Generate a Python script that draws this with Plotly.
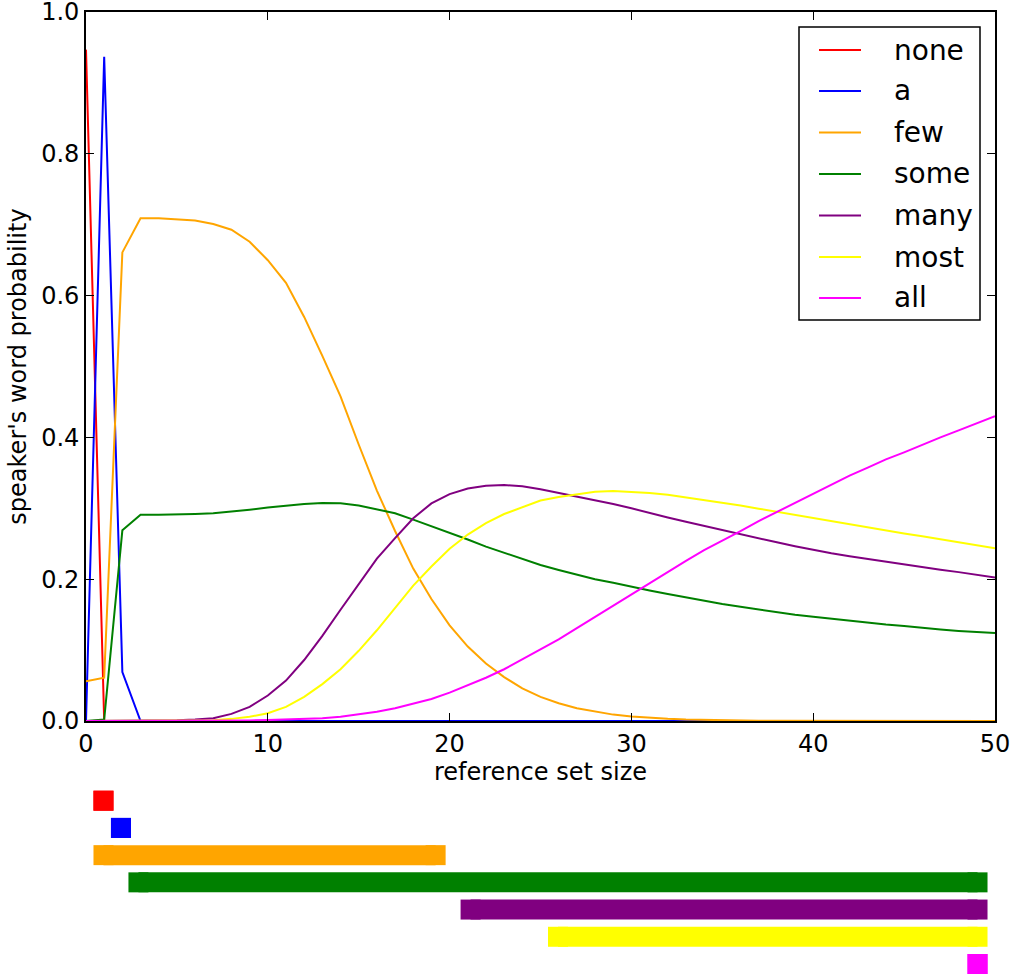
import plotly.graph_objects as go

x_sizes = list(range(51))

none_p = [0.947, 0, 0, 0, 0, 0, 0, 0, 0, 0,
          0, 0, 0, 0, 0, 0, 0, 0, 0, 0,
          0, 0, 0, 0, 0, 0, 0, 0, 0, 0,
          0, 0, 0, 0, 0, 0, 0, 0, 0, 0,
          0, 0, 0, 0, 0, 0, 0, 0, 0, 0, 0]
a_p = [0, 0.937, 0.069, 0, 0, 0, 0, 0, 0, 0,
       0, 0, 0, 0, 0, 0, 0, 0, 0, 0,
       0, 0, 0, 0, 0, 0, 0, 0, 0, 0,
       0, 0, 0, 0, 0, 0, 0, 0, 0, 0,
       0, 0, 0, 0, 0, 0, 0, 0, 0, 0, 0]
few_p = [0.056, 0.061, 0.661, 0.709, 0.709, 0.708, 0.706, 0.701, 0.693, 0.676,
         0.650, 0.618, 0.570, 0.515, 0.458, 0.390, 0.325, 0.268, 0.215, 0.172,
         0.135, 0.105, 0.081, 0.062, 0.046, 0.034, 0.025, 0.018, 0.013, 0.009,
         0.0065, 0.0045, 0.003, 0.002, 0.0014, 0.001, 0.0006, 0.0004, 0.0003, 0.0002,
         0.0001, 0.0001, 0, 0, 0, 0, 0, 0, 0, 0, 0]
some_p = [0, 0.002, 0.269, 0.291, 0.291, 0.291, 0.292, 0.293, 0.295, 0.298,
          0.301, 0.304, 0.306, 0.3075, 0.307, 0.304, 0.299, 0.293, 0.284, 0.275,
          0.266, 0.256, 0.246, 0.237, 0.228, 0.220, 0.213, 0.206, 0.200, 0.195,
          0.189, 0.184, 0.179, 0.174, 0.169, 0.165, 0.161, 0.157, 0.153, 0.150,
          0.147, 0.144, 0.141, 0.138, 0.136, 0.134, 0.131, 0.129, 0.127, 0.125, 0.124]
many_p = [0, 0, 0, 0, 0, 0.001, 0.002, 0.004, 0.010, 0.020,
          0.036, 0.057, 0.086, 0.120, 0.157, 0.193, 0.229, 0.258, 0.286, 0.307,
          0.320, 0.328, 0.332, 0.333, 0.331, 0.327, 0.322, 0.317, 0.312, 0.306,
          0.300, 0.293, 0.287, 0.281, 0.275, 0.2695, 0.2635, 0.2575, 0.252, 0.2465,
          0.241, 0.2365, 0.2325, 0.2285, 0.2245, 0.221, 0.2175, 0.2135, 0.210, 0.2065, 0.2025]
most_p = [0, 0, 0, 0, 0, 0, 0, 0.001, 0.003, 0.006,
          0.011, 0.020, 0.034, 0.052, 0.073, 0.099, 0.128, 0.159, 0.191, 0.218,
          0.243, 0.263, 0.279, 0.292, 0.302, 0.311, 0.316, 0.320, 0.3235, 0.3245,
          0.3235, 0.3215, 0.319, 0.3155, 0.312, 0.3085, 0.304, 0.2995, 0.295, 0.2905,
          0.286, 0.2815, 0.277, 0.273, 0.269, 0.2645, 0.2605, 0.256, 0.252, 0.248, 0.2435]
all_p = [0, 0, 0, 0, 0, 0, 0, 0.0003, 0.0005, 0.0008,
         0.0013, 0.002, 0.003, 0.004, 0.006, 0.009, 0.013, 0.018, 0.024, 0.031,
         0.040, 0.050, 0.061, 0.073, 0.087, 0.101, 0.115, 0.131, 0.147, 0.163,
         0.178, 0.1945, 0.210, 0.226, 0.241, 0.254, 0.268, 0.282, 0.295, 0.308,
         0.321, 0.3335, 0.346, 0.3575, 0.369, 0.379, 0.390, 0.400, 0.410, 0.420, 0.430]

words = ["none", "a", "few", "some", "many", "most", "all"]
colors = ["red", "blue", "orange", "green", "purple", "yellow", "magenta"]
series = [none_p, a_p, few_p, some_p, many_p, most_p, all_p]

# ranges of set sizes where each word is used (bottom panel)
range_start = [0, 1, 0, 2, 21, 26, 50]
range_end = [0, 1, 19, 50, 50, 50, 50]
row_index = [0, 1, 2, 3, 4, 5, 6]

y_ticks = [0.0, 0.2, 0.4, 0.6, 0.8, 1.0]
x_ticks = [0, 10, 20, 30, 40, 50]

FONT = "DejaVu Sans"
W, H = 1016, 978
ml, mr, mt, mb = 86, 21, 12, 0
pw = W - ml - mr
ph = H - mt - mb


def xpaper(px):
    return (px - ml) / pw


def ypaper(py):
    return (H - mb - py) / ph


fig = go.Figure()

for w, c, s in zip(words, colors, series):
    fig.add_trace(go.Scatter(x=x_sizes, y=s, mode="lines", name=w,
                             line=dict(color=c, width=2),
                             showlegend=False,
                             xaxis="x", yaxis="y"))

for w, c, a0, a1, r in zip(words, colors, range_start, range_end, row_index):
    fig.add_trace(go.Scatter(x=[a0, a1], y=[r, r], mode="lines+markers",
                             line=dict(color=c, width=20),
                             marker=dict(symbol="square", size=20, color=c,
                                         line=dict(width=0)),
                             showlegend=False, xaxis="x2", yaxis="y2",
                             cliponaxis=False, hoverinfo="skip"))

# hand-built legend box (matching the matplotlib look)
shapes = [dict(type="rect", xref="paper", yref="paper",
               x0=xpaper(799), x1=xpaper(980), y0=ypaper(320), y1=ypaper(27),
               line=dict(color="black", width=1.5), fillcolor="white",
               layer="above")]
annotations = []
row_y = [50, 91, 132.5, 174, 215.5, 257, 298]
for w, c, ry in zip(words, colors, row_y):
    shapes.append(dict(type="line", xref="paper", yref="paper",
                       x0=xpaper(819), x1=xpaper(861),
                       y0=ypaper(ry), y1=ypaper(ry),
                       line=dict(color=c, width=2), layer="above"))
    annotations.append(dict(text=w, xref="paper", yref="paper",
                            x=xpaper(892), y=ypaper(ry),
                            xanchor="left", yanchor="middle", showarrow=False,
                            font=dict(family=FONT, size=28, color="black")))

axis_common = dict(showgrid=False, zeroline=False, showline=True,
                   linecolor="black", linewidth=1.75, mirror="ticks",
                   ticks="inside", ticklen=8, tickcolor="black", tickwidth=1,
                   ticklabeloverflow="allow", automargin=False,
                   tickfont=dict(family=FONT, size=24, color="black"))

fig.update_layout(
    template="none",
    width=W, height=H, autosize=False,
    margin=dict(l=ml, r=mr, t=mt, b=mb, pad=0, autoexpand=False),
    plot_bgcolor="white", paper_bgcolor="white",
    font=dict(family=FONT, size=24, color="black"),
    showlegend=False,
    shapes=shapes,
    annotations=annotations,
    xaxis=dict(domain=[0, 1], anchor="y", range=[0, 50],
               tickvals=x_ticks, ticktext=[str(v) for v in x_ticks],
               title=dict(text="reference set size", standoff=0,
                          font=dict(family=FONT, size=24, color="black")),
               **axis_common),
    yaxis=dict(domain=[ypaper(721), ypaper(12)], anchor="x",
               range=[0, 1.0001],
               tickvals=y_ticks, ticktext=["%.1f" % v for v in y_ticks],
               title=dict(text="speaker's word probability", standoff=8,
                          font=dict(family=FONT, size=24, color="black")),
               **axis_common),
    xaxis2=dict(domain=[0, 1], anchor="y2", range=[-1, 51], visible=False,
                automargin=False),
    yaxis2=dict(domain=[ypaper(977.6), ypaper(787.1)], anchor="x2",
                range=[6.5, -0.5], visible=False, automargin=False),
)

fig.write_html("out.html",
               config={"displayModeBar": False},
               post_script="document.documentElement.style.margin='0';"
                           "document.documentElement.style.overflow='hidden';"
                           "document.body.style.margin='0';"
                           "document.body.style.padding='0';"
                           "document.body.style.overflow='hidden';")
